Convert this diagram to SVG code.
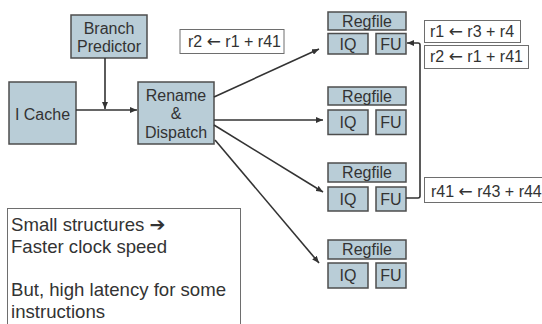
<svg xmlns="http://www.w3.org/2000/svg" width="542" height="324" viewBox="0 0 542 324">
  <style>
    .blk { fill: #b9cdd7; stroke: #4d4d4d; stroke-width: 1.5; }
    .note { fill: #ffffff; stroke: #6e6e6e; stroke-width: 1; }
    .t { font-family: "Liberation Sans", Arial, "DejaVu Sans", sans-serif; font-size: 16px; fill: #333333; }
    .c { text-anchor: middle; }
    .big { font-size: 18.6px; }
    .arw { font-family: "DejaVu Sans", sans-serif; font-size: 17px; }
    .heavy { font-family: "DejaVu Sans", sans-serif; font-size: 19px; }
    .wire { fill: none; stroke: #333333; stroke-width: 1.6; }
  </style>
  <defs>
    <marker id="ah" markerUnits="userSpaceOnUse" markerWidth="8" markerHeight="6" refX="7" refY="3" orient="auto">
      <path d="M0,0 L7,3 L0,6 z" fill="#333333"/>
    </marker>
  </defs>

  <rect width="542" height="324" fill="#ffffff"/>

  <!-- front end -->
  <g id="branch-predictor">
    <rect class="blk" x="71" y="15" width="76" height="43"/>
    <text class="t c" x="109" y="33.5">Branch</text>
    <text class="t c" x="109" y="52">Predictor</text>
  </g>
  <g id="icache">
    <rect class="blk" x="9" y="82" width="67" height="62"/>
    <text class="t c" x="42.5" y="119.5">I Cache</text>
  </g>
  <g id="rename-dispatch">
    <rect class="blk" x="138" y="82" width="76" height="62"/>
    <text class="t c" x="176" y="100.5">Rename</text>
    <text class="t c" x="176" y="119">&amp;</text>
    <text class="t c" x="176" y="138">Dispatch</text>
  </g>

  <!-- execution clusters -->
  <g id="cluster-1">
    <rect class="blk" x="328" y="12" width="78" height="18"/>
    <text class="t c" x="367" y="26.5">Regfile</text>
    <rect class="blk" x="328" y="33.5" width="40" height="20.5"/>
    <text class="t c" x="348" y="50">IQ</text>
    <rect class="blk" x="376" y="33.5" width="30" height="20.5"/>
    <text class="t c" x="391" y="50">FU</text>
  </g>
  <g id="cluster-2">
    <rect class="blk" x="328" y="87" width="78" height="18"/>
    <text class="t c" x="367" y="101.5">Regfile</text>
    <rect class="blk" x="328" y="110" width="40" height="24.5"/>
    <text class="t c" x="348" y="128">IQ</text>
    <rect class="blk" x="376" y="110" width="30" height="24.5"/>
    <text class="t c" x="391" y="128">FU</text>
  </g>
  <g id="cluster-3">
    <rect class="blk" x="328" y="163" width="78" height="19"/>
    <text class="t c" x="367" y="178">Regfile</text>
    <rect class="blk" x="328" y="187" width="40" height="24"/>
    <text class="t c" x="348" y="205">IQ</text>
    <rect class="blk" x="376" y="187" width="30" height="24"/>
    <text class="t c" x="391" y="205">FU</text>
  </g>
  <g id="cluster-4">
    <rect class="blk" x="328" y="240" width="78" height="19"/>
    <text class="t c" x="367" y="255">Regfile</text>
    <rect class="blk" x="328" y="263" width="40" height="25"/>
    <text class="t c" x="348" y="281">IQ</text>
    <rect class="blk" x="376" y="263" width="30" height="25"/>
    <text class="t c" x="391" y="281">FU</text>
  </g>

  <!-- instruction notes -->
  <g id="note-dispatch">
    <rect class="note" x="180" y="29.5" width="104" height="24"/>
    <text class="t" x="188" y="47">r2 <tspan class="arw">←</tspan> r1 + r41</text>
  </g>
  <g id="note-fu1-a">
    <rect class="note" x="424.5" y="20.5" width="96" height="22"/>
    <text class="t" x="430" y="37">r1 <tspan class="arw">←</tspan> r3 + r4</text>
  </g>
  <g id="note-fu1-b">
    <rect class="note" x="424.5" y="45.5" width="104" height="23"/>
    <text class="t" x="430" y="62">r2 <tspan class="arw">←</tspan> r1 + r41</text>
  </g>
  <g id="note-fu3">
    <rect class="note" x="424.5" y="177.5" width="130" height="25"/>
    <text class="t" x="431" y="196.5">r41 <tspan class="arw">←</tspan> r43 + r44</text>
  </g>
  <g id="note-summary">
    <rect class="note" x="7.5" y="208.5" width="233" height="130"/>
    <text class="t big" x="11" y="231">Small structures <tspan class="heavy">➔</tspan></text>
    <text class="t big" x="11" y="253">Faster clock speed</text>
    <text class="t big" x="11" y="296">But, high latency for some</text>
    <text class="t big" x="11" y="318">instructions</text>
  </g>

  <!-- connectors -->
  <g id="connectors">
    <line class="wire" x1="76" y1="110" x2="137" y2="110" marker-end="url(#ah)"/>
    <line class="wire" x1="105" y1="58" x2="105" y2="109" marker-end="url(#ah)"/>
    <line class="wire" x1="214" y1="97" x2="319" y2="49" marker-end="url(#ah)"/>
    <line class="wire" x1="214" y1="120" x2="323" y2="120" marker-end="url(#ah)"/>
    <line class="wire" x1="214" y1="125" x2="323" y2="192" marker-end="url(#ah)"/>
    <line class="wire" x1="215" y1="140" x2="319" y2="263" marker-end="url(#ah)"/>
    <path class="wire" d="M406,198 H418 Q420,198 420,196 V45 Q420,43 418,43 H407" marker-end="url(#ah)"/>
  </g>
</svg>
